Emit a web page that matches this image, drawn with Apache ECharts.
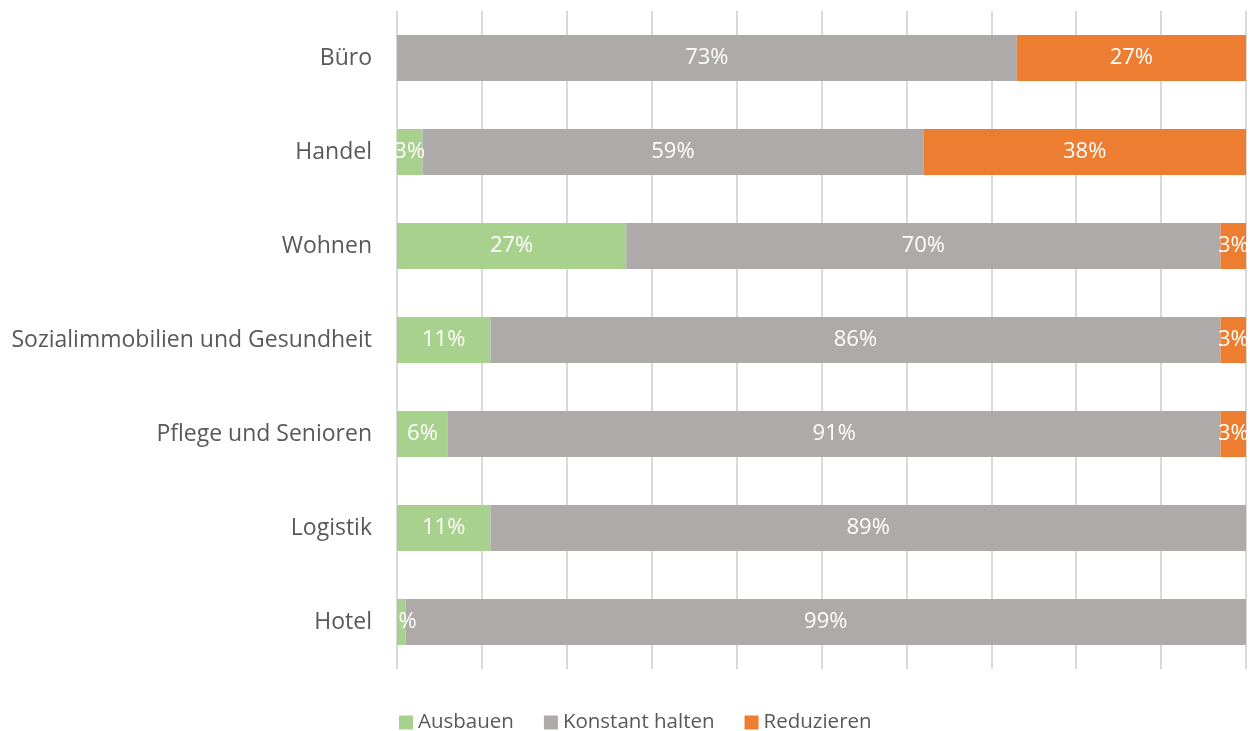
<!DOCTYPE html>
<html>
<head>
<meta charset="utf-8">
<style>
  html, body { margin: 0; padding: 0; background: #ffffff; }
  #chart { width: 1251px; height: 731px; }
</style>
<script src="https://cdn.jsdelivr.net/npm/echarts@6/dist/echarts.min.js"></script>
</head>
<body>
<div id="chart"></div>
<script>
// Nutzungsarten, von oben nach unten
const categories = ['Büro', 'Handel', 'Wohnen', 'Sozialimmobilien und Gesundheit', 'Pflege und Senioren', 'Logistik', 'Hotel'];
// Anteile in Prozent
const ausbauen = [0, 3, 27, 11, 6, 11, 1];
const konstant = [73, 59, 70, 86, 91, 89, 99];
const reduzieren = [27, 38, 3, 3, 3, 0, 0];
const xTicks = [0, 10, 20, 30, 40, 50, 60, 70, 80, 90, 100];

const FONT = 'Open Sans';
const TEXT = '#595959';

const labelCfg = {
  show: true,
  position: 'inside',
  color: '#ffffff',
  fontFamily: FONT,
  fontSize: 22,
  formatter: p => (p.value > 0 ? p.value + '%' : '')
};

function makeSeries(name, data, color) {
  return {
    name: name,
    type: 'bar',
    stack: 'total',
    barWidth: 46,
    data: data,
    itemStyle: { color: color },
    label: labelCfg,
    emphasis: { disabled: true }
  };
}

const chart = echarts.init(document.getElementById('chart'), null, { renderer: 'canvas' });
chart.setOption({
  animation: false,
  textStyle: { fontFamily: FONT },
  grid: { left: 397, right: 5, top: 11, bottom: 62, containLabel: false },
  legend: {
    top: 707,
    left: 394,
    itemWidth: 14,
    itemHeight: 14,
    itemGap: 30,
    icon: 'rect',
    textStyle: { color: TEXT, fontSize: 20.5, fontFamily: FONT },
    data: ['Ausbauen', 'Konstant halten', 'Reduzieren']
  },
  xAxis: {
    type: 'value',
    min: xTicks[0],
    max: xTicks[xTicks.length - 1],
    interval: 10,
    axisLabel: { show: false },
    axisLine: { show: false },
    axisTick: { show: false },
    splitLine: { show: true, lineStyle: { color: '#D9D9D9', width: 2 } }
  },
  yAxis: {
    type: 'category',
    inverse: true,
    data: categories,
    axisLine: { show: false },
    axisTick: { show: false },
    axisLabel: { color: TEXT, fontSize: 23, fontFamily: FONT, margin: 25 }
  },
  series: [
    makeSeries('Ausbauen', ausbauen, '#A9D18E'),
    makeSeries('Konstant halten', konstant, '#AEAAAA'),
    makeSeries('Reduzieren', reduzieren, '#ED7D31')
  ]
});

// Wertebeschriftungen, die über den linken Rand der Zeichenfläche ragen, abschneiden
const originPx = chart.convertToPixel({ gridIndex: 0 }, [0, 0]);
const firstRowY = chart.convertToPixel({ yAxisIndex: 0 }, categories[0]);
chart.setOption({
  graphic: [{
    type: 'rect',
    z: 100,
    silent: true,
    shape: { x: originPx[0] - 24, y: firstRowY - 60, width: 23, height: originPx[1] - firstRowY + 120 },
    style: { fill: '#ffffff' }
  }]
});
</script>
</body>
</html>
